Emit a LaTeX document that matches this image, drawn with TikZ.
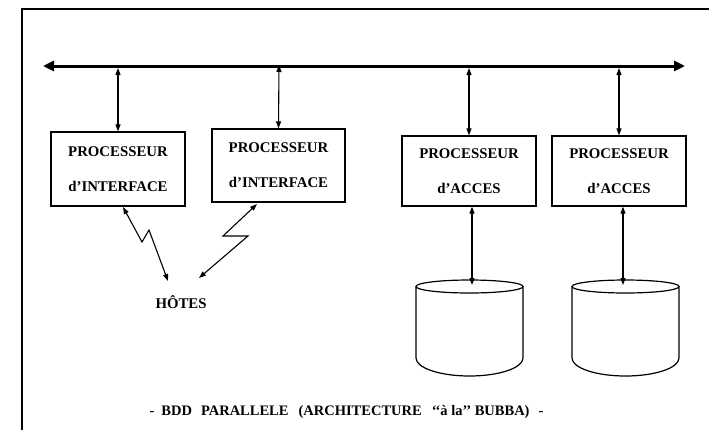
\documentclass[tikz,border=0pt]{standalone}
\usepackage{fontspec}
\setmainfont{Liberation Serif}
\usetikzlibrary{arrows.meta}
\begin{document}
\begin{tikzpicture}[x=1pt,y=-1pt,
  proc/.style={draw,line width=1.3pt,minimum width=134pt,inner sep=0pt,
    font=\bfseries\fontsize{14.8}{35}\selectfont,align=center},
  link/.style={line width=1.1pt,{Triangle[length=7pt,width=5pt]}-{Triangle[length=7pt,width=5pt]}},
  bus/.style={line width=3pt,{Triangle[length=11pt,width=10pt]}-{Triangle[length=11pt,width=10pt]}},
  disk/.style={line width=1.2pt}]
\useasboundingbox (0,0) rectangle (709,429);
\fill[white] (0,0) rectangle (709,429);
% outer frame (runs off the page at right and bottom)
\begin{scope}
\clip (0,0) rectangle (709,429);
\draw[line width=1.3pt] (22,440) -- (22,9) -- (720,9);
\end{scope}

% bus
\coordinate (busL) at (43,66);
\coordinate (busR) at (685,66);
\draw[bus] (busL) -- (busR);

% processors
\node[proc,minimum height=74pt] (pi1) at (118,169) {PROCESSEUR\\d’INTERFACE};
\node[proc,minimum height=73pt,minimum width=133pt] (pi2) at (278.5,165.5) {PROCESSEUR\\d’INTERFACE};
\node[proc,minimum height=70pt] (pa1) at (469,171) {PROCESSEUR\\d’ACCES};
\node[proc,minimum height=70pt] (pa2) at (619,171) {PROCESSEUR\\d’ACCES};

% bus taps
\coordinate (t1) at (118,68);
\coordinate (t2) at (279,65);
\coordinate (t3) at (469,68);
\coordinate (t4) at (619,68);
\draw[link] (t1) -- (pi1.north);
\draw[link] (t2) -- (pi2.north);
\draw[link] (t3) -- (pa1.north);
\draw[link] (t4) -- (pa2.north);

% hosts and radio links
\node[font=\bfseries\fontsize{14.8}{16}\selectfont] (hotes) at (181,302) {HÔTES};
\coordinate (h1a) at (123,207);
\coordinate (h1b) at (168,281);
\coordinate (h2a) at (257,204);
\coordinate (h2b) at (199,278);
\draw[link] (h1a) -- (142,242) -- (149,230) -- (h1b);
\draw[link] (h2a) -- (223,236) -- (248,236) -- (h2b);

% disks
\foreach \cx in {469.5,625.5}{
  \draw[disk] (\cx-53.5,286.5) -- (\cx-53.5,358) arc[start angle=180,end angle=0,x radius=53.5,y radius=18] -- (\cx+53.5,286.5);
  \draw[disk] (\cx,286.5) ellipse[x radius=53.5,y radius=6.5];
}
\coordinate (d1top) at (472,285);
\coordinate (d2top) at (623,285);
\draw[link] ([xshift=3pt]pa1.south) -- (d1top);
\draw[link] ([xshift=4pt]pa2.south) -- (d2top);

% caption
\node[font=\bfseries\fontsize{14.5}{16}\selectfont] (cap) at (346.5,412)
  {-\hspace{7pt}BDD\hspace{9pt}PARALLELE\hspace{10pt}(ARCHITECTURE\hspace{10pt}‘‘à la’’ BUBBA)\hspace{9pt}-};
\end{tikzpicture}
\end{document}
